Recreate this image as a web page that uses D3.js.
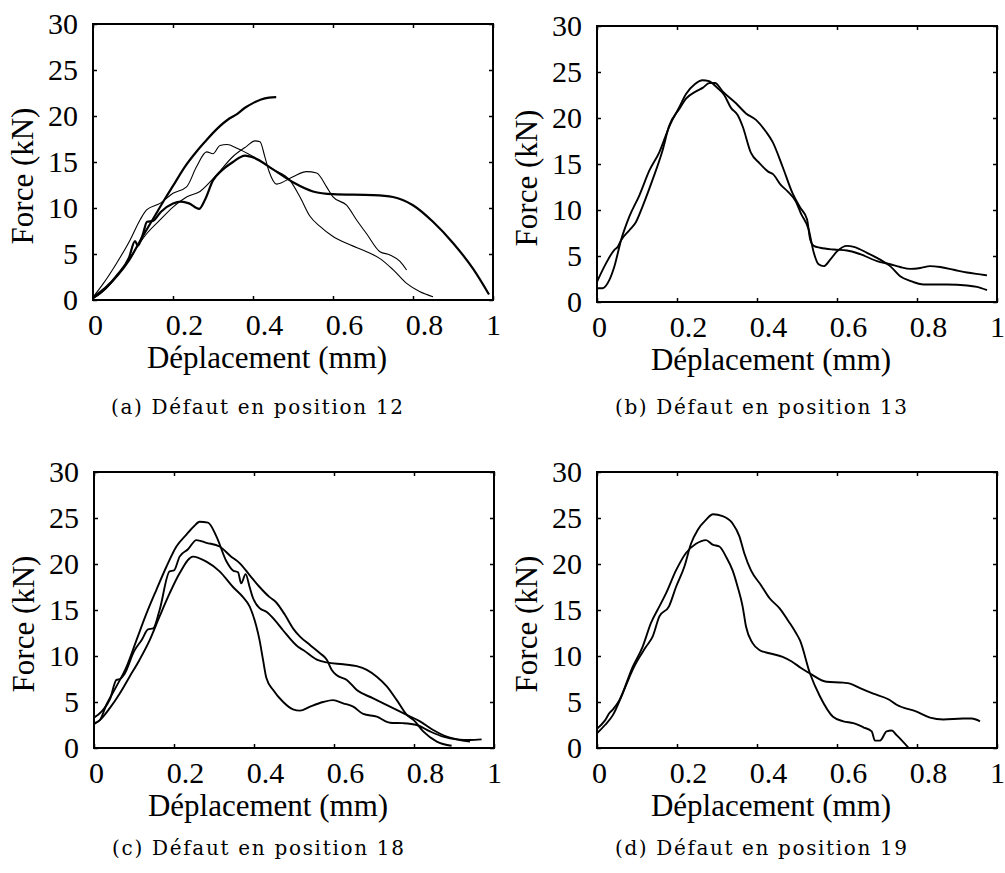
<!DOCTYPE html>
<html>
<head>
<meta charset="utf-8">
<script src="https://cdn.jsdelivr.net/npm/d3@7"></script>
<style>
  body { margin: 0; background: #fff; }
  svg { display: block; }
</style>
</head>
<body>
<svg></svg>
<script>
const width = 1005;
const height = 873;

// ================================
// Data (displacement mm, force kN)
// ================================

const xTicks = [0, 0.2, 0.4, 0.6, 0.8, 1];
const xTickLabels = ['0', '0.2', '0.4', '0.6', '0.8', '1'];
const yTicks = [0, 5, 10, 15, 20, 25, 30];
const yTickLabels = ['0', '5', '10', '15', '20', '25', '30'];

const captions = [
  '(a) Défaut en position 12',
  '(b) Défaut en position 13',
  '(c) Défaut en position 18',
  '(d) Défaut en position 19'
];

// position 12
const pos12_thickShort = [[0,0.3],[0.03,1.3],[0.06,2.6],[0.09,4.3],[0.12,6.6],[0.15,8.8],[0.18,11.0],[0.2,12.4],[0.23,14.5],[0.26,16.2],[0.28,17.2],[0.31,18.6],[0.34,19.7],[0.36,20.2],[0.38,20.9],[0.4,21.4],[0.42,21.8],[0.44,22.0],[0.458,22.05]];
const pos12_thickLong = [[0,0.2],[0.03,1.2],[0.06,2.7],[0.09,4.6],[0.105,6.4],[0.112,5.9],[0.125,7.2],[0.135,8.5],[0.15,8.6],[0.17,9.6],[0.2,10.5],[0.22,10.7],[0.24,10.5],[0.265,9.9],[0.28,10.9],[0.3,13.0],[0.32,14.0],[0.35,15.0],[0.38,15.7],[0.4,15.5],[0.45,14.2],[0.5,12.8],[0.55,11.8],[0.6,11.5],[0.7,11.4],[0.75,11.2],[0.8,10.3],[0.85,8.5],[0.9,6.2],[0.95,3.4],[0.99,0.6]];
const pos12_thin1 = [[0,0.3],[0.026,1.8],[0.059,4.0],[0.0925,6.5],[0.1175,8.7],[0.134,9.8],[0.1675,10.5],[0.2,11.6],[0.234,12.3],[0.259,14.5],[0.284,16.1],[0.3,15.9],[0.3175,16.8],[0.335,16.9],[0.36,16.5],[0.4,15.6],[0.45,14.2],[0.4925,13.0],[0.5175,11.2],[0.5425,9.1],[0.5675,8.0],[0.6,6.9],[0.6425,6.0],[0.684,5.25],[0.7175,4.5],[0.75,3.3],[0.784,1.8],[0.8175,0.9],[0.85,0.36]];
const pos12_thin2 = [[0,0.2],[0.009,0.4],[0.059,2.5],[0.1,5.1],[0.134,7.2],[0.1675,8.7],[0.2,10.1],[0.234,11.2],[0.2675,11.8],[0.309,13.6],[0.35,15.6],[0.384,16.7],[0.405,17.3],[0.4175,17.2],[0.43,15.5],[0.44,14.0],[0.459,12.6],[0.5,13.4],[0.534,13.95],[0.559,13.8],[0.584,12.3],[0.6,11.2],[0.634,10.3],[0.659,8.7],[0.684,7.2],[0.7175,5.25],[0.7425,4.9],[0.7675,4.2],[0.784,3.26]];

// position 13
const pos13_a = [[0,1.5],[0.014,1.5],[0.031,2.4],[0.043,3.8],[0.06,6.7],[0.081,9.3],[0.106,11.6],[0.131,14.3],[0.156,16.3],[0.181,19.1],[0.206,21.2],[0.2225,22.6],[0.245,23.7],[0.264,24.1],[0.28,24.0],[0.3,23.3],[0.318,22.5],[0.335,21.1],[0.352,20.3],[0.364,19.1],[0.385,16.2],[0.406,15.1],[0.427,14.2],[0.44,13.9],[0.46,12.7],[0.477,12.0],[0.4975,10.9],[0.51,9.6],[0.529,7.9],[0.542,5.35],[0.554,4.1],[0.567,3.9],[0.583,4.6],[0.6,5.5],[0.625,6.1],[0.642,6.0],[0.675,5.35],[0.708,4.6],[0.733,3.9],[0.758,2.8],[0.783,2.3],[0.817,1.9],[0.875,1.9],[0.925,1.8],[0.95,1.65],[0.975,1.3]];
const pos13_b = [[0,2.2],[0.0225,4.2],[0.043,5.65],[0.052,6.0],[0.06,6.7],[0.081,7.8],[0.0975,8.7],[0.114,10.4],[0.139,13.3],[0.164,16.5],[0.18,19.1],[0.206,21.0],[0.2225,22.1],[0.2475,22.9],[0.265,23.3],[0.281,23.8],[0.295,23.8],[0.314,22.9],[0.3475,21.6],[0.3725,20.5],[0.3975,19.8],[0.4225,18.5],[0.439,17.4],[0.464,14.7],[0.489,11.8],[0.5075,10.3],[0.525,9.0],[0.533,6.8],[0.542,6.1],[0.558,5.9],[0.592,5.7],[0.625,5.6],[0.658,5.2],[0.7,4.45],[0.733,4.1],[0.758,3.8],[0.783,3.6],[0.808,3.7],[0.833,3.9],[0.858,3.8],[0.892,3.5],[0.925,3.2],[0.958,3.0],[0.975,2.9]];

// position 18
const pos18_high = [[0,2.7],[0.014,3.0],[0.031,4.7],[0.056,6.7],[0.081,8.8],[0.106,11.7],[0.131,14.6],[0.156,17.2],[0.181,19.7],[0.206,21.9],[0.231,23.2],[0.25,24.1],[0.264,24.6],[0.285,24.5],[0.306,23.0],[0.331,20.3],[0.3475,19.3],[0.36,19.1],[0.368,17.9],[0.379,18.9],[0.389,17.5],[0.3975,16.3],[0.414,15.2],[0.431,14.8],[0.452,13.9],[0.4725,12.8],[0.51,11.0],[0.523,10.65],[0.557,9.6],[0.582,9.3],[0.623,9.1],[0.657,8.9],[0.682,8.5],[0.707,7.75],[0.732,6.7],[0.757,5.2],[0.782,3.6],[0.8,3.0],[0.823,1.8],[0.857,0.7],[0.894,0.25]];
const pos18_mid = [[0,3.3],[0.02,4.0],[0.04,5.3],[0.056,7.4],[0.065,7.5],[0.077,8.1],[0.1,10.5],[0.12,11.8],[0.135,12.9],[0.148,13.0],[0.164,15.0],[0.189,19.2],[0.2,19.3],[0.214,20.8],[0.235,21.6],[0.256,22.6],[0.281,22.3],[0.314,21.9],[0.343,20.8],[0.364,20.1],[0.389,18.8],[0.414,17.5],[0.439,16.4],[0.454,15.9],[0.477,14.5],[0.4975,13.0],[0.515,12.1],[0.54,11.2],[0.565,10.3],[0.582,9.6],[0.594,8.5],[0.607,7.9],[0.632,7.4],[0.657,6.3],[0.698,5.4],[0.74,4.5],[0.782,3.6],[0.815,2.9],[0.848,1.96],[0.882,1.23],[0.915,0.87],[0.94,0.7]];
const pos18_low = [[0,2.6],[0.014,3.0],[0.039,4.3],[0.064,5.9],[0.089,7.75],[0.114,9.6],[0.139,11.7],[0.164,14.3],[0.189,16.8],[0.214,19.0],[0.2475,20.8],[0.281,20.25],[0.314,19.2],[0.3475,17.5],[0.3725,16.4],[0.389,15.4],[0.406,13.2],[0.414,11.7],[0.4225,9.6],[0.431,7.6],[0.448,6.3],[0.473,5.0],[0.4975,4.2],[0.515,4.06],[0.54,4.5],[0.573,5.0],[0.5975,5.2],[0.623,4.86],[0.648,4.5],[0.673,3.7],[0.707,3.4],[0.74,2.75],[0.773,2.7],[0.807,2.5],[0.84,1.8],[0.873,1.23],[0.907,0.94],[0.94,0.87],[0.969,0.94]];

// position 19
const pos19_high = [[0,1.6],[0.02,2.5],[0.04,3.6],[0.06,5.5],[0.08,7.6],[0.089,8.5],[0.1225,11.0],[0.139,12.1],[0.156,14.3],[0.18,15.4],[0.1975,17.5],[0.2183,19.7],[0.235,22.2],[0.2517,23.7],[0.2725,24.8],[0.29,25.4],[0.314,25.2],[0.339,24.4],[0.356,23.0],[0.368,21.2],[0.385,19.3],[0.41,17.7],[0.431,16.3],[0.456,15.2],[0.48,13.7],[0.4975,12.5],[0.5075,11.7],[0.5325,8.1],[0.5575,5.6],[0.59,3.4],[0.6158,2.9],[0.6408,2.7],[0.6658,2.25],[0.6867,1.8],[0.695,0.8],[0.7075,0.8],[0.724,1.8],[0.7367,1.9],[0.749,1.4],[0.778,0.07]];
const pos19_low = [[0,2.1],[0.02,3.0],[0.031,3.8],[0.04,4.2],[0.056,5.2],[0.089,8.8],[0.114,11.0],[0.135,13.6],[0.156,15.4],[0.1725,16.8],[0.1975,19.3],[0.2225,21.2],[0.2475,22.2],[0.2725,22.6],[0.289,22.1],[0.306,21.9],[0.3225,20.8],[0.339,19.3],[0.3517,17.5],[0.364,15.4],[0.3725,13.2],[0.389,11.4],[0.4058,10.65],[0.4308,10.3],[0.464,9.9],[0.4867,9.4],[0.51,8.7],[0.5325,8.1],[0.574,7.2],[0.6158,7.1],[0.6325,7.0],[0.6575,6.5],[0.6908,5.9],[0.7283,5.3],[0.749,4.7],[0.799,3.95],[0.8325,3.3],[0.8658,3.1],[0.9158,3.2],[0.9367,3.2],[0.9575,2.9]];


// ================================
// Layout of the four panels
// ================================

const plotW = 400;
const plotH = 276;

const panels = [
  { left: 93,  top: 24,  capY: 414, caption: captions[0],
    series: [[pos12_thin1, 1.1], [pos12_thin2, 1.1], [pos12_thickLong, 2.2], [pos12_thickShort, 2.2]] },
  { left: 597, top: 26,  capY: 414, caption: captions[1],
    series: [[pos13_a, 1.9], [pos13_b, 1.9]] },
  { left: 94,  top: 472, capY: 855, caption: captions[2],
    series: [[pos18_high, 1.9], [pos18_mid, 1.9], [pos18_low, 1.9]] },
  { left: 597, top: 472, capY: 855, caption: captions[3],
    series: [[pos19_high, 1.9], [pos19_low, 1.9]] }
];

const svg = d3.select('svg')
  .attr('width', width)
  .attr('height', height);

const x = d3.scaleLinear().domain([0, 1]).range([0, plotW]);
const y = d3.scaleLinear().domain([0, 30]).range([plotH, 0]);

const line = d3.line()
  .x(d => x(d[0]))
  .y(d => y(d[1]))
  .curve(d3.curveMonotoneX);

const serif = '"Liberation Serif", "Times New Roman", serif';

panels.forEach(p => {
  const g = svg.append('g')
    .attr('transform', `translate(${p.left},${p.top})`);

  // curves
  p.series.forEach(([data, w]) => {
    g.append('path')
      .datum(data)
      .attr('fill', 'none')
      .attr('stroke', '#000')
      .attr('stroke-width', w)
      .attr('stroke-linejoin', 'round')
      .attr('d', line);
  });

  // bottom axis, ticks pointing in
  const xAxis = g.append('g')
    .attr('transform', `translate(0,${plotH})`)
    .call(d3.axisBottom(x)
      .tickValues(xTicks)
      .tickFormat((d, i) => xTickLabels[i])
      .tickSize(-4)
      .tickPadding(14));
  xAxis.selectAll('text')
    .attr('dx', (d, i) => xTickLabels[i].length > 1 ? 11 : (d === 1 ? 0 : 2));

  const yAxis = g.append('g')
    .call(d3.axisLeft(y)
      .tickValues(yTicks)
      .tickFormat((d, i) => yTickLabels[i])
      .tickSize(-4)
      .tickPadding(15));

  // mirrored ticks on top and right
  const topAxis = g.append('g')
    .call(d3.axisTop(x).tickValues(xTicks).tickFormat('').tickSize(-4));
  const rightAxis = g.append('g')
    .attr('transform', `translate(${plotW},0)`)
    .call(d3.axisRight(y).tickValues(yTicks).tickFormat('').tickSize(-4));

  [xAxis, yAxis, topAxis, rightAxis].forEach(a => {
    a.select('.domain').remove();
    a.selectAll('line').attr('stroke', '#000').attr('stroke-width', 1.5);
    a.selectAll('text')
      .attr('fill', '#000')
      .style('font-family', serif)
      .style('font-size', '30px');
  });

  // frame
  g.append('rect')
    .attr('width', plotW)
    .attr('height', plotH)
    .attr('fill', 'none')
    .attr('stroke', '#000')
    .attr('stroke-width', 2);

  // axis titles
  g.append('text')
    .attr('x', plotW / 2 - 26)
    .attr('y', plotH + 68)
    .attr('text-anchor', 'middle')
    .style('font-family', serif)
    .style('font-size', '31px')
    .text('Déplacement (mm)');

  g.append('text')
    .attr('transform', `translate(-60,${plotH / 2 + 14}) rotate(-90)`)
    .attr('text-anchor', 'middle')
    .style('font-family', serif)
    .style('font-size', '31px')
    .text('Force (kN)');

  // sub-caption
  svg.append('text')
    .attr('x', p.left + 164)
    .attr('y', p.capY)
    .attr('text-anchor', 'middle')
    .attr('textLength', 292)
    .attr('lengthAdjust', 'spacing')
    .style('font-family', '"DejaVu Serif", serif')
    .style('font-size', '20px')
    .text(p.caption);
});
</script>
</body>
</html>
